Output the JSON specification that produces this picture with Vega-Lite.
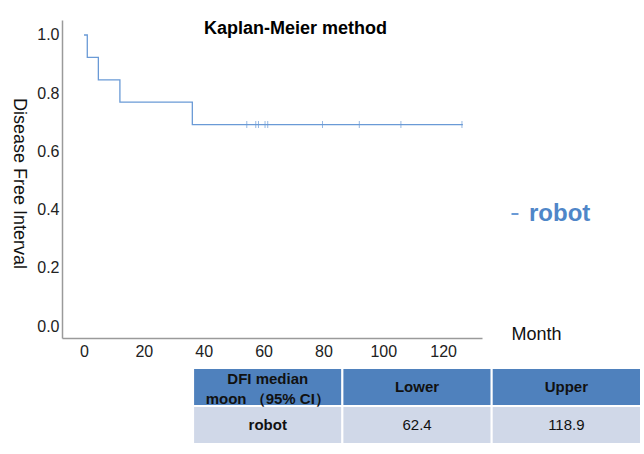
{
  "$schema": "https://vega.github.io/schema/vega-lite/v6.json",
  "background": "white",
  "padding": {"left": 9, "top": 20, "right": 0, "bottom": 0},
  "bounds": "flush",
  "spacing": 30,
  "resolve": {"scale": {"color": "independent"}, "legend": {"color": "independent"}},
  "datasets": {
    "km": [
      {"month": 0, "survival": 1.0, "group": "robot"},
      {"month": 1.1, "survival": 0.923, "group": "robot"},
      {"month": 4.8, "survival": 0.846, "group": "robot"},
      {"month": 12.0, "survival": 0.769, "group": "robot"},
      {"month": 36.2, "survival": 0.692, "group": "robot"},
      {"month": 126.6, "survival": 0.692, "group": "robot"}
    ],
    "censor": [
      {"month": 54.4, "survival": 0.692, "group": "robot"},
      {"month": 57.4, "survival": 0.692, "group": "robot"},
      {"month": 58.3, "survival": 0.692, "group": "robot"},
      {"month": 60.5, "survival": 0.692, "group": "robot"},
      {"month": 61.4, "survival": 0.692, "group": "robot"},
      {"month": 79.7, "survival": 0.692, "group": "robot"},
      {"month": 92.0, "survival": 0.692, "group": "robot"},
      {"month": 105.9, "survival": 0.692, "group": "robot"},
      {"month": 126.3, "survival": 0.692, "group": "robot"}
    ],
    "table": [
      {"col": "name", "row": "header", "text": "DFI median\nmoon （95% CI）"},
      {"col": "lower", "row": "header", "text": "Lower"},
      {"col": "upper", "row": "header", "text": "Upper"},
      {"col": "name", "row": "body", "text": "robot"},
      {"col": "lower", "row": "body", "text": "62.4"},
      {"col": "upper", "row": "body", "text": "118.9"}
    ]
  },
  "vconcat": [
    {
      "width": 420,
      "height": 318,
      "title": {
        "text": "Kaplan-Meier method",
        "anchor": "start",
        "frame": "group",
        "dx": 142,
        "offset": -18,
        "fontSize": 18,
        "fontWeight": "bold",
        "color": "#000000"
      },
      "layer": [
        {
          "data": {"name": "km"},
          "mark": {"type": "line", "interpolate": "step-after", "strokeWidth": 1.3},
          "encoding": {
            "x": {
              "field": "month", "type": "quantitative",
              "scale": {"domain": [-7.35, 133], "nice": false, "zero": false},
              "axis": {
                "values": [0, 20, 40, 60, 80, 100, 120],
                "ticks": false, "grid": false,
                "domainColor": "#9a9a9a", "domainWidth": 1.5,
                "labelFontSize": 16, "labelColor": "#222222", "labelPadding": 5,
                "title": "Month", "titleFontSize": 18, "titleFontWeight": "normal", "titleColor": "#111111",
                "titleX": 449, "titleY": 1, "titleAlign": "left", "titleBaseline": "alphabetic"
              }
            },
            "y": {
              "field": "survival", "type": "quantitative",
              "scale": {"domain": [-0.0412, 1.0515], "nice": false, "zero": false},
              "axis": {
                "values": [0, 0.2, 0.4, 0.6, 0.8, 1.0], "format": ".1f",
                "ticks": false, "grid": false,
                "domainColor": "#9a9a9a", "domainWidth": 1.5,
                "labelFontSize": 16, "labelColor": "#222222", "labelPadding": 3,
                "title": "Disease Free Interval", "titleFontSize": 18, "titleFontWeight": "normal", "titleColor": "#111111",
                "titleAngle": 90, "titleX": -44, "titleY": 163, "titleAlign": "center", "titleBaseline": "middle"
              }
            },
            "color": {
              "field": "group", "type": "nominal",
              "scale": {"range": ["#6a9ad6"]},
              "legend": {
                "orient": "none", "legendX": 441, "legendY": 182,
                "title": null, "symbolType": "stroke", "symbolSize": 49, "symbolStrokeWidth": 2,
                "labelFontSize": 24, "labelFontWeight": "bold", "labelColor": "#4f86c8", "labelOffset": 2
              }
            }
          }
        },
        {
          "data": {"name": "censor"},
          "mark": {"type": "tick", "orient": "vertical", "size": 7, "thickness": 1},
          "encoding": {
            "x": {"field": "month", "type": "quantitative"},
            "y": {"field": "survival", "type": "quantitative"},
            "color": {"field": "group", "type": "nominal", "legend": null}
          }
        }
      ]
    },
    {
      "width": 579,
      "height": 76,
      "data": {"name": "table"},
      "encoding": {
        "x": {
          "field": "col", "type": "nominal", "sort": ["name", "lower", "upper"],
          "scale": {"paddingInner": 0, "paddingOuter": 0.439, "align": 1},
          "axis": null
        },
        "y": {
          "field": "row", "type": "nominal", "sort": ["header", "body"],
          "scale": {"paddingInner": 0, "paddingOuter": 0},
          "axis": null
        }
      },
      "layer": [
        {
          "mark": {"type": "rect", "stroke": "white", "strokeWidth": 2},
          "encoding": {
            "color": {
              "field": "row", "type": "nominal", "sort": ["header", "body"],
              "scale": {"domain": ["header", "body"], "range": ["#4f81bd", "#d0d8e8"]},
              "legend": null
            }
          }
        },
        {
          "transform": [{"filter": "datum.row === 'header' && datum.col === 'name'"}],
          "mark": {"type": "text", "fontSize": 15, "fontWeight": "bold", "color": "#111111", "lineBreak": "\n", "lineHeight": 20, "dy": -8},
          "encoding": {"text": {"field": "text"}}
        },
        {
          "transform": [{"filter": "datum.row === 'header' && datum.col !== 'name'"}],
          "mark": {"type": "text", "fontSize": 15, "fontWeight": "bold", "color": "#111111"},
          "encoding": {"text": {"field": "text"}}
        },
        {
          "transform": [{"filter": "datum.row === 'body' && datum.col === 'name'"}],
          "mark": {"type": "text", "fontSize": 15, "fontWeight": "bold", "color": "#111111"},
          "encoding": {"text": {"field": "text"}}
        },
        {
          "transform": [{"filter": "datum.row === 'body' && datum.col !== 'name'"}],
          "mark": {"type": "text", "fontSize": 15, "color": "#111111"},
          "encoding": {"text": {"field": "text"}}
        }
      ]
    }
  ],
  "config": {
    "font": "Liberation Sans",
    "view": {"stroke": null}
  }
}
